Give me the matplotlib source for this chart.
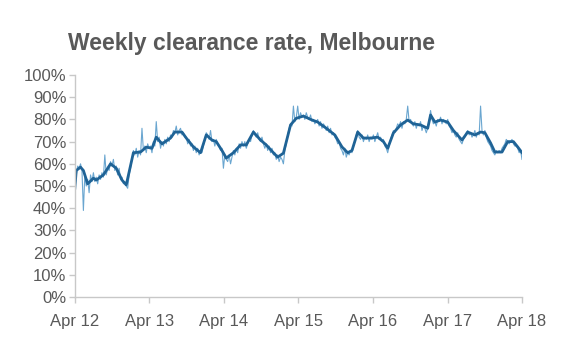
import numpy as np
import pandas as pd
import matplotlib
matplotlib.use("Agg")
import matplotlib.pyplot as plt
import matplotlib.dates as mdates
from matplotlib.ticker import MultipleLocator, FuncFormatter

# weekly clearance rate (%), starting first week of April 2012
start = "2012-04-01"
weekly_rate = [
    48, 55, 59, 58, 60, 57, 39, 55, 50, 53, 47, 55, 52,
    56, 52, 54, 51, 55, 53, 56, 54, 64, 55, 58, 57, 61,
    59, 62, 57, 59, 55, 58, 53, 54, 51, 52, 50, 49, 55,
    58, 62, 66, 64, 67, 63, 66, 64, 76, 66, 68, 65, 69,
    67, 68, 65, 70, 68, 79, 70, 72, 67, 70, 68, 71, 69,
    72, 70, 73, 72, 75, 74, 77, 73, 75, 76, 73, 74, 72,
    72, 69, 71, 68, 69, 66, 68, 65, 67, 64, 66, 65, 68,
    71, 74, 73, 71, 75, 70, 71, 68, 71, 69, 68, 66, 67,
    58, 64, 62, 61, 64, 60, 63, 66, 64, 67, 65, 69, 67,
    70, 68, 70, 67, 69, 71, 70, 73, 75, 73, 72, 74, 71,
    70, 72, 69, 67, 69, 66, 68, 65, 67, 64, 65, 62, 64,
    61, 63, 62, 60, 66, 69, 73, 76, 78, 77, 86, 79, 81,
    86, 80, 83, 81, 82, 80, 83, 81, 80, 82, 79, 80, 78,
    79, 80, 77, 79, 76, 78, 77, 75, 77, 74, 76, 73, 74,
    72, 71, 69, 70, 67, 66, 64, 67, 63, 65, 64, 66, 65,
    68, 70, 73, 75, 72, 71, 73, 70, 72, 71, 73, 70, 72,
    71, 73, 70, 72, 74, 71, 72, 70, 71, 68, 67, 65, 68,
    71, 73, 75, 74, 76, 78, 77, 79, 76, 79, 78, 80, 86,
    79, 80, 78, 77, 79, 76, 78, 77, 79, 75, 77, 76, 74,
    76, 79, 84, 80, 78, 79, 77, 80, 79, 81, 78, 80, 79,
    78, 80, 77, 76, 74, 75, 73, 72, 74, 71, 70, 69, 71,
    72, 74, 75, 73, 74, 72, 73, 75, 72, 74, 73, 86, 75,
    73, 75, 72, 70, 69, 68, 66, 65, 64, 66, 65, 66, 65,
    67, 68, 69, 71, 70, 69, 70, 71, 69, 68, 68, 67, 65, 66, 62,
]

# smoothed trend (week number, %)
trend_week = [0, 1, 4, 6, 9, 13, 15, 20, 25, 29, 33, 36, 41, 46, 50, 54, 57,
              61, 67, 70, 75, 78, 83, 88, 92, 96, 99, 103, 106, 111, 116, 120,
              125, 130, 134, 139, 142, 146, 151, 155, 160, 165, 170, 176, 182,
              187, 191, 194, 198, 202, 207, 212, 216, 219, 223, 228, 233, 237,
              242, 247, 249, 252, 256, 261, 265, 271, 275, 280, 284, 287, 291,
              294, 299, 303, 307, 310, 313]
trend_val = [49, 57, 58.5, 57, 51, 53.5, 52.7, 55, 60, 58, 52.7, 50.5, 65,
             65.3, 67.5, 67, 72, 69, 71.6, 74.3, 74.3, 71.6, 67.6, 65, 73,
             70.7, 70, 66, 62.6, 65, 68.5, 68.5, 74.3, 70.7, 68.5, 65, 63,
             64.8, 77.5, 80.5, 81.5, 80, 78.8, 76, 73, 67.6, 65, 66, 74.3,
             71.6, 71.6, 72, 70, 67, 73.9, 77.5, 79.7, 78, 77.5, 76, 82, 78.8,
             79.7, 78.8, 75, 70.7, 74.3, 73, 74.3, 74, 69.4, 65.3, 65.3, 70,
             70, 67.6, 65]

x_ticks = ["2012-04-01", "2013-04-01", "2014-04-01", "2015-04-01",
           "2016-04-01", "2017-04-01", "2018-04-01"]

grey = "#595959"
axis_grey = "#c8c8c8"

dates = pd.date_range(start, periods=len(weekly_rate), freq="7D")
trend_dates = pd.Timestamp(start) + pd.to_timedelta(np.array(trend_week) * 7, unit="D")

plt.rcParams["font.family"] = ["Liberation Sans", "DejaVu Sans"]

fig = plt.figure(figsize=(5.8, 3.52), dpi=100)
ax = fig.add_axes([0.129, 0.156, 0.771, 0.631])

ax.plot(dates, weekly_rate, color="#6aa6d0", linewidth=0.8)
ax.plot(trend_dates, trend_val, color="#1f6396", linewidth=2.0,
        solid_joinstyle="round")

ax.set_ylim(0, 100)
ax.set_xlim(pd.Timestamp(x_ticks[0]), pd.Timestamp(x_ticks[-1]))
ax.yaxis.set_major_locator(MultipleLocator(10))
ax.yaxis.set_major_formatter(FuncFormatter(lambda v, p: f"{v:.0f}%"))
ax.set_xticks(pd.to_datetime(x_ticks))
ax.xaxis.set_major_formatter(mdates.DateFormatter("%b %y"))

for s in ["top", "right"]:
    ax.spines[s].set_visible(False)
for s in ["left", "bottom"]:
    ax.spines[s].set_color(axis_grey)
    ax.spines[s].set_linewidth(1.0)
ax.tick_params(axis="both", colors=axis_grey, length=4, width=1.0,
               labelsize=12, labelcolor=grey)
ax.tick_params(axis="x", pad=8)
ax.tick_params(axis="y", pad=2)

fig.text(0.117, 0.858, "Weekly clearance rate, Melbourne", fontsize=16.5,
         fontweight="bold", color=grey, ha="left", va="baseline")

fig.savefig("out.png", dpi=100)
